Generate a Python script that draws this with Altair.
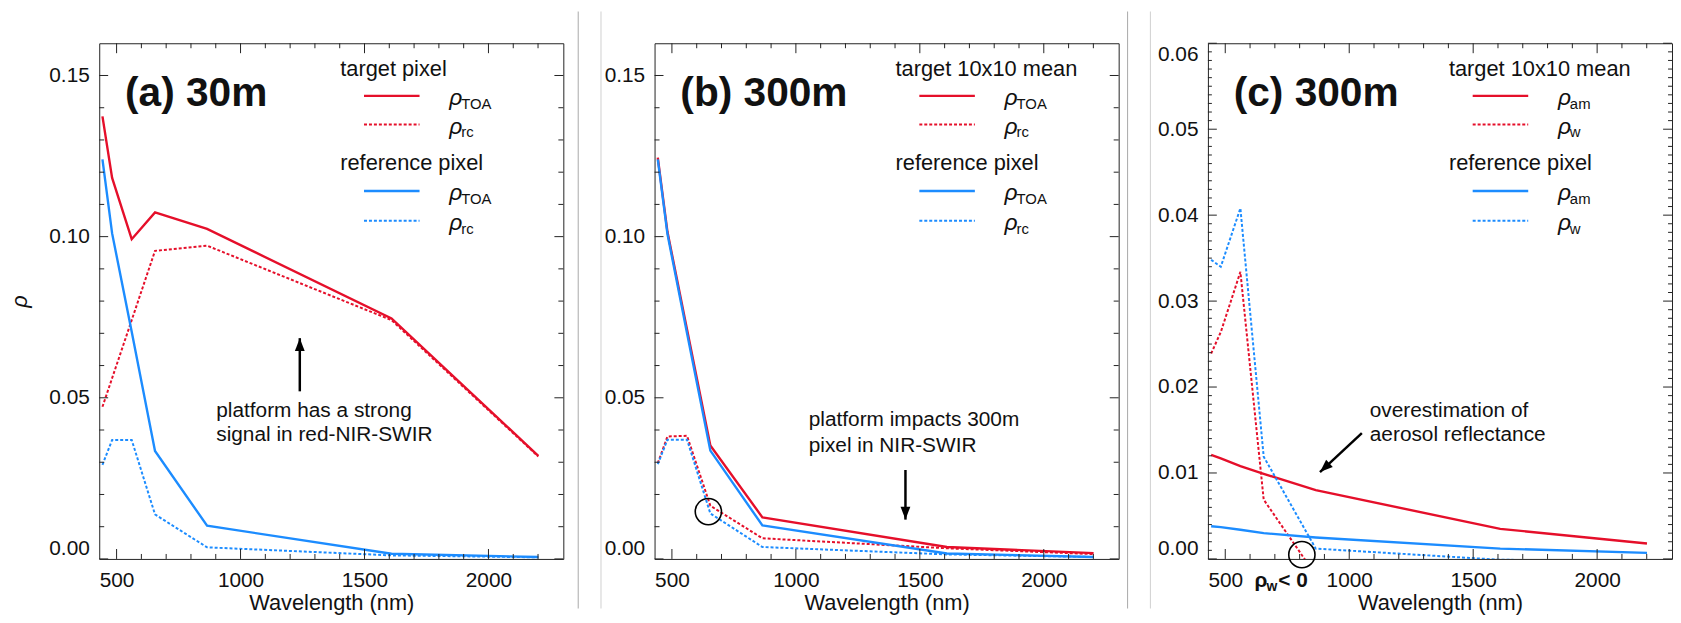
import altair as alt
import pandas as pd

# ---------------- data ----------------
WL = [443, 482, 561, 655, 865, 1609, 2201]

# (a) 30m
A_TARGET_TOA = [0.1373, 0.1182, 0.0992, 0.1075, 0.1024, 0.0746, 0.0320]
A_TARGET_RC = [0.0472, 0.0561, 0.0741, 0.0956, 0.0972, 0.0741, 0.0318]
A_REF_TOA = [0.1240, 0.1010, 0.0705, 0.0335, 0.0103, 0.0016, 0.0006]
A_REF_RC = [0.0292, 0.0369, 0.0369, 0.0138, 0.0036, 0.0011, 0.0005]

# (b) 300m
B_TARGET_TOA = [0.1245, 0.1015, 0.0712, 0.0352, 0.0129, 0.0037, 0.0018]
B_TARGET_RC = [0.0297, 0.0380, 0.0382, 0.0165, 0.0064, 0.0033, 0.0015]
B_REF_TOA = [0.1240, 0.1008, 0.0700, 0.0336, 0.0104, 0.0017, 0.0006]
B_REF_RC = [0.0294, 0.0370, 0.0370, 0.0141, 0.0037, 0.0014, 0.0006]

# (c) 300m
C_TARGET_AM = [0.0121, 0.0117, 0.0108, 0.0099, 0.0080, 0.0035, 0.0018]
C_TARGET_W = [0.0239, 0.0264, 0.0334, 0.0069, -0.0019, -0.0030, -0.0015]
C_REF_AM = [0.0038, 0.0037, 0.0034, 0.0030, 0.0025, 0.0012, 0.0007]
C_REF_W = [0.0348, 0.0340, 0.0408, 0.0119, 0.0012, -0.0001, -0.0002]

# axis ticks / labels
X_DOMAIN = [430, 2302]
X_MAJOR = [500, 1000, 1500, 2000]
X_MINOR = [v for v in range(500, 2300, 100) if v % 500]
AB_DOMAIN = [0, 0.16]
AB_MAJOR = [0.0, 0.05, 0.10, 0.15]
AB_MINOR = [round(i * 0.01, 3) for i in range(1, 16) if i % 5]
C_DOMAIN = [0, 0.06]
C_MAJOR = [0.0, 0.01, 0.02, 0.03, 0.04, 0.05, 0.06]
C_MINOR = [round(i * 0.001, 4) for i in range(1, 60) if i % 10]

# annotation anchors (wavelength, reflectance)
ANN_A_TEXT = [(902, 0.0458, "platform has a strong"), (902, 0.0383, "signal in red-NIR-SWIR")]
ANN_A_ARROW = (1239, 0.0520, 1239, 0.0685, 0)
ANN_B_TEXT = [(1052, 0.0430, "platform impacts 300m"), (1052, 0.0350, "pixel in NIR-SWIR")]
ANN_B_ARROW = (1442, 0.0276, 1442, 0.0122, 180)
ANN_B_CIRCLE = (647, 0.0147)
ANN_C_TEXT = [(1083, 0.01726, "overestimation of"), (1083, 0.01436, "aerosol reflectance")]
ANN_C_ARROW = (1051, 0.01464, 882, 0.0101, 227.5)
ANN_C_CIRCLE = (809, 0.0005)

# ---------------- style ----------------
W, H = 468, 520
FONT = "Liberation Sans"
RED = "#e50f2a"
BLUE = "#1c8cff"
INK = "#111111"
HEAD = "M0,0L0.38,1L-0.38,1Z"
SOLID_W = 2.4
DASH_W = 2.0
DASH = [3, 2]


def one(s):
    return pd.DataFrame({"t": [s]})


def vtext(s, x, y, size, **kw):
    return alt.Chart(one(s)).mark_text(
        align="left", baseline="alphabetic", fontSize=size, font=FONT, color=INK, **kw
    ).encode(x=alt.value(x), y=alt.value(y), text="t:N")


def vline(x1, x2, y, color, dashed):
    kw = dict(color=color, strokeWidth=SOLID_W)
    if dashed:
        kw.update(strokeDash=DASH, strokeWidth=DASH_W)
    return alt.Chart(one("")).mark_rule(**kw).encode(
        x=alt.value(x1), x2=alt.value(x2), y=alt.value(y)
    )


def make_panel(series, ydom, ymaj, ymin, ytitle, label, header, subs,
               ann_text, arrow, circle, left_div, right_div):
    xs = alt.Scale(domain=X_DOMAIN, nice=False, zero=False)
    ys = alt.Scale(domain=ydom, nice=False, zero=False)
    xaxis = alt.Axis(values=X_MAJOR, format="d", ticks=False, domain=False, grid=False,
                     labelFontSize=21, labelPadding=11, labelFlush=False, labelColor=INK,
                     labelFont=FONT, title="Wavelength (nm)", titleFontSize=22,
                     titleFont=FONT, titleFontWeight="normal", titleColor=INK, titlePadding=2)
    ykw = dict(values=ymaj, format=".2f", ticks=False, domain=False, grid=False,
               labelFontSize=21, labelPadding=10, labelFlush=True, labelColor=INK,
               labelFont=FONT)
    if ytitle:
        yaxis = alt.Axis(title=ytitle, titleFontSize=22, titleFont=FONT,
                         titleFontWeight="normal", titleFontStyle="italic",
                         titleColor=INK, titlePadding=17, **ykw)
    else:
        yaxis = alt.Axis(title=None, **ykw)

    def X(f):
        return alt.X(f, scale=xs, axis=xaxis)

    def Y(f):
        return alt.Y(f, scale=ys, axis=yaxis)

    layers = []
    for vals, color, dashed in series:
        df = pd.DataFrame({"wl": WL, "v": vals})
        kw = dict(color=color, strokeWidth=SOLID_W, clip=True)
        if dashed:
            kw.update(strokeDash=DASH, strokeWidth=DASH_W)
        layers.append(alt.Chart(df).mark_line(**kw).encode(x=X("wl:Q"), y=Y("v:Q")))

    # frame dividers (outside plot)
    if left_div is not None:
        layers.append(alt.Chart(one("")).mark_rule(color="#cfcfcf", strokeWidth=1).encode(
            x=alt.value(left_div), y=alt.value(-32), y2=alt.value(H + 50)))
    if right_div is not None:
        layers.append(alt.Chart(one("")).mark_rule(color="#a8a8a8", strokeWidth=1).encode(
            x=alt.value(right_div), y=alt.value(-32), y2=alt.value(H + 50)))

    # inward ticks on all four sides
    def xt(vals, L):
        base = alt.Chart(pd.DataFrame({"wl": vals})).mark_rule(color="#222", strokeWidth=1)
        return [base.encode(x=X("wl:Q"), y=alt.value(H), y2=alt.value(H - L)),
                base.encode(x=X("wl:Q"), y=alt.value(0), y2=alt.value(L))]

    def yt(vals, L):
        base = alt.Chart(pd.DataFrame({"v": vals})).mark_rule(color="#222", strokeWidth=1)
        return [base.encode(y=Y("v:Q"), x=alt.value(0), x2=alt.value(L)),
                base.encode(y=Y("v:Q"), x=alt.value(W - L), x2=alt.value(W))]

    layers += xt(X_MAJOR, 10) + xt(X_MINOR, 5)
    layers += yt(ymaj, 9) + yt(ymin, 4 if len(ymin) > 30 else 5)

    # panel label
    layers.append(vtext(label, 26, 63, 41, fontWeight="bold"))

    # legend
    layers.append(vtext(header[0], 243, 33, 22))
    layers.append(vtext(header[1], 243, 128, 22))
    rows = [(53, RED, False, subs[0]), (82, RED, True, subs[1]),
            (149, BLUE, False, subs[0]), (179, BLUE, True, subs[1])]
    for y, color, dashed, sub in rows:
        layers.append(vline(267, 323, y, color, dashed))
        layers.append(vtext("ρ", 353, y + 9, 23, fontStyle="italic"))
        layers.append(vtext(sub, 365, y + 13, 15))

    # annotation texts in data coordinates
    tdf = pd.DataFrame({"wl": [a[0] for a in ann_text], "v": [a[1] for a in ann_text],
                        "t": [a[2] for a in ann_text]})
    layers.append(alt.Chart(tdf).mark_text(align="left", baseline="middle", fontSize=21,
                                           font=FONT, color=INK).encode(
        x=X("wl:Q"), y=Y("v:Q"), text="t:N"))

    # arrow
    x0, y0, x1, y1, ang = arrow
    adf = pd.DataFrame({"wl": [x0], "v": [y0], "wl2": [x1], "v2": [y1]})
    layers.append(alt.Chart(adf).mark_rule(color="black", strokeWidth=2.5).encode(
        x=X("wl:Q"), y=Y("v:Q"), x2="wl2:Q", y2="v2:Q"))
    hdf = pd.DataFrame({"wl": [x1], "v": [y1]})
    layers.append(alt.Chart(hdf).mark_point(shape=HEAD, filled=True, color="black", size=676,
                                            angle=ang, opacity=1).encode(
        x=X("wl:Q"), y=Y("v:Q")))

    if circle is not None:
        cdf = pd.DataFrame({"wl": [circle[0]], "v": [circle[1]]})
        layers.append(alt.Chart(cdf).mark_point(shape="circle", filled=False, color="black",
                                                size=700, strokeWidth=1.6, opacity=1).encode(
            x=X("wl:Q"), y=Y("v:Q")))

    return layers


la = make_panel(
    [(A_TARGET_TOA, RED, False), (A_TARGET_RC, RED, True),
     (A_REF_TOA, BLUE, False), (A_REF_RC, BLUE, True)],
    AB_DOMAIN, AB_MAJOR, AB_MINOR, "ρ", "(a) 30m",
    ("target pixel", "reference pixel"), ("TOA", "rc"),
    ANN_A_TEXT, ANN_A_ARROW, None, None, W + 15)

lb = make_panel(
    [(B_TARGET_TOA, RED, False), (B_TARGET_RC, RED, True),
     (B_REF_TOA, BLUE, False), (B_REF_RC, BLUE, True)],
    AB_DOMAIN, AB_MAJOR, AB_MINOR, None, "(b) 300m",
    ("target 10x10 mean", "reference pixel"), ("TOA", "rc"),
    ANN_B_TEXT, ANN_B_ARROW, ANN_B_CIRCLE, -54, W + 9)

lc = make_panel(
    [(C_TARGET_AM, RED, False), (C_TARGET_W, RED, True),
     (C_REF_AM, BLUE, False), (C_REF_W, BLUE, True)],
    C_DOMAIN, C_MAJOR, C_MINOR, None, "(c) 300m",
    ("target 10x10 mean", "reference pixel"), ("am", "w"),
    ANN_C_TEXT, ANN_C_ARROW, ANN_C_CIRCLE, -58, None)

# "rho_w < 0" note below the x axis of panel (c)
lc += [
    vtext("ρ", 47, H + 28, 21, fontWeight="bold"),
    vtext("w", 59, H + 32, 14, fontWeight="bold"),
    vtext("< 0", 71, H + 28, 21, fontWeight="bold"),
]

pa = alt.layer(*la).properties(width=W, height=H)
pb = alt.layer(*lb).properties(width=W, height=H)
pc = alt.layer(*lc).properties(width=W, height=H)

chart = alt.hconcat(pa, pb, pc, spacing=21, padding=0, background="white").configure(
    font=FONT
).configure_view(stroke="#222", strokeWidth=1)

chart.save("out.html", embed_options={"renderer": "svg", "actions": False})
